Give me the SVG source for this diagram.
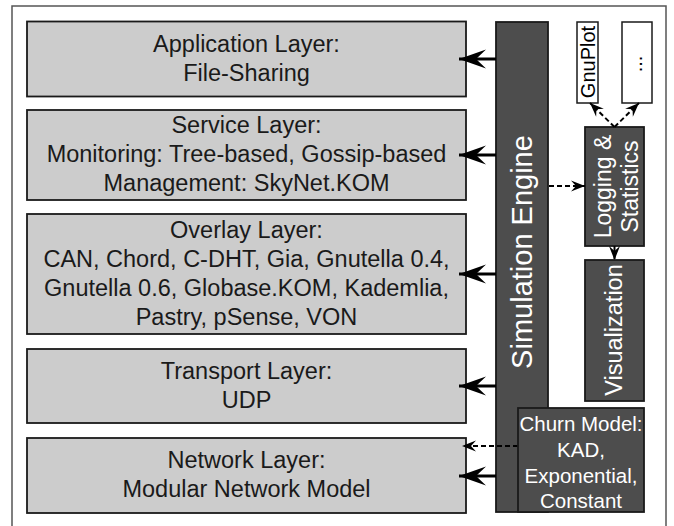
<svg xmlns="http://www.w3.org/2000/svg" width="674" height="526" viewBox="0 0 674 526">
<style>
.layer rect{fill:#cccccc;stroke:#1a1a1a;stroke-width:1.8}
.dark rect{fill:#4d4d4d;stroke:#1a1a1a;stroke-width:1.8}
.white rect{fill:#ffffff;stroke:#1a1a1a;stroke-width:1.5}
text{font-family:"Liberation Sans",Arial,sans-serif;text-anchor:middle}
.lt{font-size:23.5px;fill:#1a1a1a}
.wt{fill:#ffffff}
.solid{stroke:#000;stroke-width:3;fill:none}
.dash{stroke:#000;stroke-width:2;stroke-dasharray:5,3;fill:none}
</style>
<defs>
<marker id="big" markerUnits="userSpaceOnUse" orient="auto" markerWidth="30" markerHeight="20" refX="0" refY="0" viewBox="-28 -10 30 20" overflow="visible">
<path d="M0,0 L-27,-9.5 L-17,0 L-27,9.5 Z" fill="#000"/>
</marker>
<marker id="small" markerUnits="userSpaceOnUse" orient="auto" markerWidth="16" markerHeight="12" refX="0" refY="0" viewBox="-16 -6 16 12" overflow="visible">
<path d="M0,0 L-14,-5.5 L-9,0 L-14,5.5 Z" fill="#000"/>
</marker>
</defs>
<rect id="frame" x="12" y="6" width="654" height="540" fill="none" stroke="#555" stroke-width="1.5"/>

<g id="application" class="layer">
<rect x="27" y="21.5" width="439" height="75"/>
<text class="lt" x="246.5" y="51.5">Application Layer:</text>
<text class="lt" x="246.5" y="80.5">File-Sharing</text>
</g>
<g id="service" class="layer">
<rect x="27" y="110" width="439" height="90"/>
<text class="lt" x="246.5" y="133">Service Layer:</text>
<text class="lt" x="246.5" y="162">Monitoring: Tree-based, Gossip-based</text>
<text class="lt" x="246.5" y="191">Management: SkyNet.KOM</text>
</g>
<g id="overlay" class="layer">
<rect x="27" y="214" width="439" height="120"/>
<text class="lt" x="246.5" y="238">Overlay Layer:</text>
<text class="lt" x="246.5" y="267">CAN, Chord, C-DHT, Gia, Gnutella 0.4,</text>
<text class="lt" x="246.5" y="296">Gnutella 0.6, Globase.KOM, Kademlia,</text>
<text class="lt" x="246.5" y="325">Pastry, pSense, VON</text>
</g>
<g id="transport" class="layer">
<rect x="27" y="349" width="439" height="74"/>
<text class="lt" x="246.5" y="378.5">Transport Layer:</text>
<text class="lt" x="246.5" y="407.5">UDP</text>
</g>
<g id="network" class="layer">
<rect x="27" y="438" width="439" height="75"/>
<text class="lt" x="246.5" y="468">Network Layer:</text>
<text class="lt" x="246.5" y="497">Modular Network Model</text>
</g>

<g id="engine" class="dark">
<rect x="496" y="22" width="52" height="490"/>
<text class="wt" font-size="29" transform="translate(532,252) rotate(-90)">Simulation Engine</text>
</g>
<g id="gnuplot" class="white">
<rect x="577" y="22" width="21" height="81"/>
<text font-size="20" fill="#000" transform="translate(595,62) rotate(-90)">GnuPlot</text>
</g>
<g id="more" class="white">
<rect x="622" y="22" width="30" height="81"/>
<text font-size="20" fill="#000" transform="translate(642,64) rotate(-90)">...</text>
</g>
<g id="logging" class="dark">
<rect x="585" y="127" width="59" height="119"/>
<text class="wt" font-size="23" transform="translate(611,186.5) rotate(-90)">Logging &amp;</text>
<text class="wt" font-size="23" transform="translate(638,186.5) rotate(-90)">Statistics</text>
</g>
<g id="visualization" class="dark">
<rect x="585" y="260" width="59" height="141"/>
<text class="wt" font-size="23.5" transform="translate(622,330) rotate(-90)">Visualization</text>
</g>

<g id="connectors">
<line class="solid" x1="496" y1="59" x2="459" y2="59" marker-end="url(#big)"/>
<line class="solid" x1="496" y1="155" x2="459" y2="155" marker-end="url(#big)"/>
<line class="solid" x1="496" y1="274" x2="459" y2="274" marker-end="url(#big)"/>
<line class="solid" x1="496" y1="386" x2="459" y2="386" marker-end="url(#big)"/>
<line class="solid" x1="496" y1="476" x2="459" y2="476" marker-end="url(#big)"/>
<line class="dash" x1="549" y1="186" x2="585" y2="186" marker-end="url(#small)"/>
<line class="dash" x1="614.5" y1="246" x2="614.5" y2="260" marker-end="url(#small)"/>
<line class="dash" x1="614.5" y1="127" x2="590" y2="103" marker-end="url(#small)"/>
<line class="dash" x1="614.5" y1="127" x2="639" y2="103" marker-end="url(#small)"/>
<line class="dash" x1="518" y1="446" x2="462" y2="446" marker-end="url(#small)"/>
</g>

<g id="churn" class="dark">
<rect x="518" y="408" width="126" height="104"/>
<text class="wt" font-size="20.5" x="581" y="431">Churn Model:</text>
<text class="wt" font-size="20.5" x="581" y="457">KAD,</text>
<text class="wt" font-size="20.5" x="581" y="483">Exponential,</text>
<text class="wt" font-size="20.5" x="581" y="508">Constant</text>
</g>
</svg>
